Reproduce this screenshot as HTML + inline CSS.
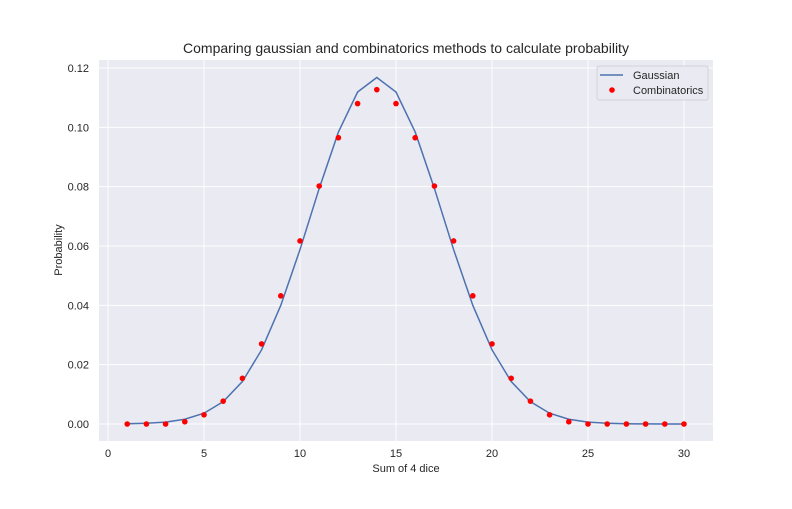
<!DOCTYPE html>
<html><head><meta charset="utf-8"><style>
body{margin:0;background:#fff;}
svg text{font-family:"Liberation Sans",sans-serif;fill:#262626;}
</style></head><body>
<svg width="792" height="504" xmlns="http://www.w3.org/2000/svg">
<rect x="99" y="60" width="614" height="381" fill="#eaeaf2"/>
<g id="grid"></g>
<g id="ticks"></g>
<path id="gauss" fill="none" stroke="#4c72b0" stroke-width="1.5"/>
<g id="pts"></g>
<text x="406" y="53" text-anchor="middle" font-size="14">Comparing gaussian and combinatorics methods to calculate probability</text>
<text x="406" y="472" text-anchor="middle" font-size="11">Sum of 4 dice</text>
<text x="62" y="250" text-anchor="middle" font-size="11" transform="rotate(-90 62 250)">Probability</text>
<g>
<rect x="597" y="66" width="111" height="34" rx="2" fill="#eaeaf2" stroke="#cccccc" stroke-width="0.8"/>
<line x1="600" y1="75" x2="623" y2="75" stroke="#4c72b0" stroke-width="1.5"/>
<text x="633" y="79" font-size="11">Gaussian</text>
<circle cx="612" cy="90" r="2.8" fill="red"/>
<text x="633" y="94" font-size="11">Combinatorics</text>
</g>
</svg>
<script>
const xs=[1,2,3,4,5,6,7,8,9,10,11,12,13,14,15,16,17,18,19,20,21,22,23,24,25,26,27,28,29,30];
const gaussian=[0.000083,0.00024,0.00065,0.00161,0.00363,0.00752,0.0143,0.0250,0.0400,0.0588,0.0794,0.0984,0.1119,0.1168,0.1119,0.0984,0.0794,0.0588,0.0400,0.0250,0.0143,0.00752,0.00363,0.00161,0.00065,0.00024,0.000083,0.000026,0.0000075,0.000002];
const combinatorics=[0,0,0,0.00077,0.0031,0.0077,0.0154,0.0270,0.0432,0.0617,0.0802,0.0965,0.1080,0.1127,0.1080,0.0965,0.0802,0.0617,0.0432,0.0270,0.0154,0.0077,0.0031,0.00077,0,0,0,0,0,0];
const xTicks=[0,5,10,15,20,25,30];
const yTicks=[0,0.02,0.04,0.06,0.08,0.10,0.12];
const yLabels=["0.00","0.02","0.04","0.06","0.08","0.10","0.12"];
const X=v=>108+v*19.2, Y=v=>424-v*(356/0.12);
const NS="http://www.w3.org/2000/svg";
const grid=document.getElementById('grid'),ticks=document.getElementById('ticks'),pts=document.getElementById('pts');
function mk(tag,attrs,parent){const e=document.createElementNS(NS,tag);for(const k in attrs)e.setAttribute(k,attrs[k]);parent.appendChild(e);return e;}
xTicks.forEach(t=>{
 const l=mk('line',{x1:X(t),x2:X(t),y1:60,y2:441,stroke:'#fff','stroke-width':1},grid);
 
 
 const tx=mk('text',{x:X(t),y:457,'text-anchor':'middle','font-size':11},ticks);
 tx.textContent=t;
 
 
});
yTicks.forEach((t,i)=>{
 const l=mk('line',{x1:99,x2:713,y1:Y(t),y2:Y(t),stroke:'#fff','stroke-width':1},grid);
 
 
 const tx=mk('text',{x:89,y:Y(t)+4,'text-anchor':'end','font-size':11},ticks);
 tx.textContent=yLabels[i];
 
 
});
document.getElementById('gauss').setAttribute('d',xs.map((x,i)=>(i?'L':'M')+X(x)+','+Y(gaussian[i])).join(''));
xs.forEach((x,i)=>{
 const c=mk('circle',{cx:X(x),cy:Y(combinatorics[i]),r:2.8,fill:'red'},pts);
 
 
});
</script>
</body></html>
